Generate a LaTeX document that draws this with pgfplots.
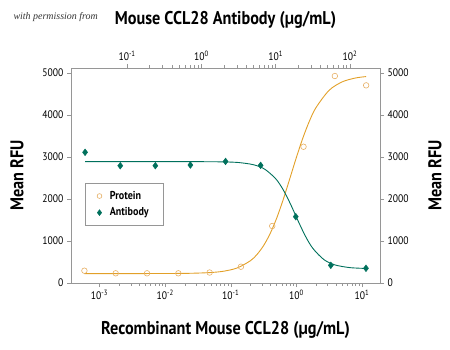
\documentclass[border=0pt]{standalone}
\usepackage{fontspec}
\setmainfont{PT Sans}
\newfontfamily\labfont[FakeStretch=0.88]{PT Sans}
\newfontfamily\wmfont{Liberation Serif}
\usepackage{pgfplots}
\pgfplotsset{compat=1.18}
\definecolor{prot}{RGB}{226,160,40}
\definecolor{protmk}{RGB}{230,175,100}
\definecolor{anti}{RGB}{0,112,92}
\definecolor{axgray}{RGB}{150,150,150}
\pgfplotsset{myax/.style={
  scale only axis, width=309bp, height=215bp,
  at={(71bp,66bp)}, anchor=south west,
  ymin=0, ymax=5120,
  tick align=outside, axis line style={axgray, line width=0.6pt},
  tick style={axgray, line width=0.5pt},
  major tick length=4bp, minor tick length=2.5bp,
  ytick={0,1000,2000,3000,4000,5000},
  /pgf/number format/assume math mode=true,
  /pgf/number format/set thousands separator={},
  tick label style={font=\labfont\fontsize{11}{12}\selectfont, black},
  label style={font=\labfont\bfseries\fontsize{18.5}{20}\selectfont},
}}
\begin{document}
\begin{tikzpicture}[x=1bp,y=1bp]
\path[use as bounding box] (0,0) rectangle (450,349);
\node[anchor=west, font=\wmfont\itshape\fontsize{10}{12}\selectfont, text=black!80] at (10bp,332bp) {with permission from};
\begin{axis}[myax, xmode=log,
  axis x line*=bottom, axis y line*=left,
  xmin=3.68e-4, xmax=18.8,
  xtick={1e-3,1e-2,1e-1,1,10},
  xticklabels={10\textsuperscript{-3},10\textsuperscript{-2},10\textsuperscript{-1},10\textsuperscript{0},10\textsuperscript{1}},
  xlabel={Recombinant Mouse CCL28 (µg/mL)},
  ylabel={Mean RFU},
  xlabel style={yshift=-14bp},
  ylabel style={yshift=12bp},
]
\addplot[prot, line width=0.9pt, smooth] coordinates {
 (5.89e-4,225) (3.16e-3,225) (0.01,226) (0.0251,232) (0.0501,250) (0.0794,283)
 (0.1259,360) (0.1995,531) (0.2512,680) (0.3162,890) (0.398,1176) (0.5012,1545)
 (0.631,1991) (0.7943,2486) (1,2990) (1.259,3459) (1.585,3861) (1.995,4180)
 (3.162,4591) (5.012,4791) (7.943,4882) (11.56,4916)};
\addplot[only marks, mark=o, mark size=2.8, mark options={protmk, line width=0.6pt}] coordinates {
 (5.89e-4,293) (1.766e-3,231) (5.30e-3,231) (0.01589,231) (0.04764,250)
 (0.1429,388) (0.4285,1357) (1.285,3245) (3.855,4929) (11.56,4707)};
\end{axis}
\begin{axis}[myax, xmode=log,
  axis x line*=top, axis y line*=right,
  xmin=0.01758, xmax=253.5,
  xtick={0.1,1,10,100},
  xticklabels={10\textsuperscript{-1},10\textsuperscript{0},10\textsuperscript{1},10\textsuperscript{2}},
  xlabel={Mouse CCL28 Antibody (µg/mL)},
  ylabel={Mean RFU},
  xlabel style={yshift=16bp},
  ylabel style={yshift=-13bp},
  legend style={at={(0.045,0.465)}, anchor=north west, draw=axgray,
    font=\labfont\bfseries\fontsize{11.5}{13}\selectfont,
    inner xsep=12bp, inner ysep=6bp, row sep=3bp,
    /tikz/every odd column/.append style={column sep=6bp}},
  legend cell align=left,
]
\addlegendimage{only marks, mark=o, mark size=2.4, mark options={protmk, line width=0.6pt}}
\addlegendimage{only marks, mark=diamond*, mark size=3, mark options={anti}}
\addplot[anti, line width=0.9pt, smooth, forget plot] coordinates {
 (0.0272,2890) (0.1,2890) (0.3162,2890) (1,2889) (1.995,2884) (3.162,2869)
 (5.012,2817) (7.079,2713) (10,2483) (12.59,2223) (15.85,1877) (19.95,1485)
 (25.12,1116) (31.62,825) (44.67,556) (63.1,430) (100,366) (164.1,347)};
\addplot[only marks, mark=diamond*, mark size=3.4, mark options={anti}, forget plot] coordinates {
 (0.0272,3112) (0.0809,2793) (0.2399,2793) (0.7112,2810) (2.113,2895)
 (6.266,2802) (18.62,1579) (55.2,421) (164.1,350)};
\legend{Protein,Antibody}
\end{axis}
\end{tikzpicture}
\end{document}
